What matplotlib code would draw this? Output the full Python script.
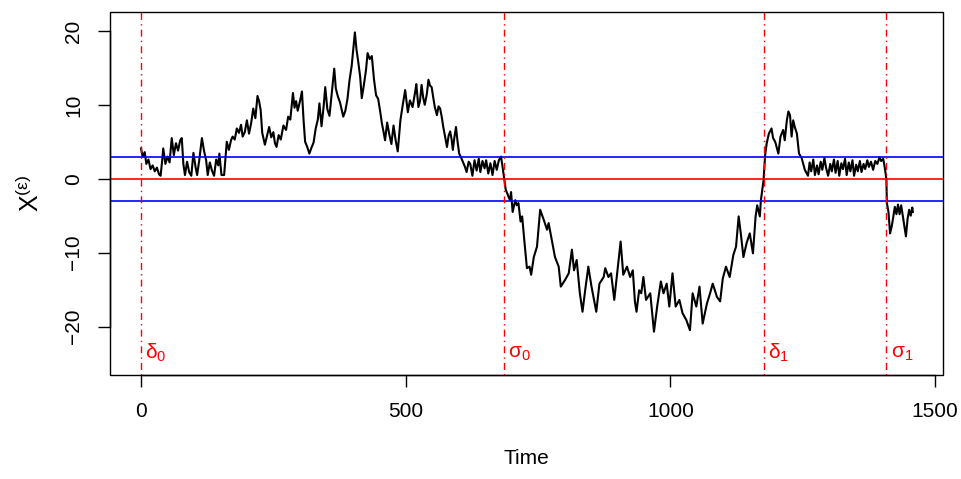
import matplotlib
matplotlib.use("Agg")
import matplotlib.pyplot as plt

plt.rcParams["font.family"] = ["Liberation Sans", "DejaVu Sans"]
plt.rcParams["mathtext.fontset"] = "custom"
plt.rcParams["mathtext.rm"] = "Liberation Sans"
plt.rcParams["mathtext.it"] = "Liberation Sans"

# path (time, value) knots
time = [
    0, 3, 7, 10, 14, 18, 22, 26, 30, 34, 37, 40, 42, 46, 50, 54, 58, 62, 66, 70,
    74, 77, 80, 83, 87, 91, 95, 99, 103, 106, 110, 115, 119, 123, 126, 130, 134, 138, 142, 146,
    148, 152, 157, 162, 166, 170, 173, 177, 181, 185, 189, 192, 196, 200, 204, 208, 212, 216, 220, 223,
    226, 229, 234, 238, 242, 246, 250, 253, 256, 260, 264, 269, 274, 278, 282, 287, 290, 293, 296, 300,
    304, 307, 310, 314, 318, 322, 326, 330, 334, 337, 341, 345, 348, 352, 356, 360, 365, 368, 372, 376,
    382, 386, 390, 394, 398, 401, 404, 407, 410, 414, 417, 421, 425, 428, 432, 436, 440, 444, 448, 452,
    455, 458, 461, 465, 469, 473, 477, 481, 485, 490, 494, 499, 504, 508, 513, 518, 520, 524, 527, 530,
    533, 536, 540, 543, 546, 549, 552, 555, 559, 562, 565, 568, 571, 575, 578, 581, 584, 587, 589, 592,
    595, 598, 601, 605, 609, 612, 615, 619, 622, 626, 630, 634, 638, 641, 645, 649, 652, 656, 660, 664,
    668, 672, 676, 680, 683, 686, 689, 692, 694, 697, 699, 702, 707, 710, 713, 717, 720, 724, 729, 734,
    737, 742, 748, 754, 761, 767, 770, 776, 782, 789, 793, 801, 808, 814, 818, 823, 829, 834, 839, 845,
    851, 860, 866, 874, 877, 883, 888, 894, 900, 906, 911, 918, 924, 929, 933, 936, 941, 945, 949, 954,
    962, 969, 975, 982, 987, 993, 998, 1004, 1010, 1017, 1023, 1030, 1037, 1042, 1049, 1055, 1061, 1069, 1075, 1080,
    1088, 1094, 1099, 1105, 1112, 1119, 1124, 1129, 1133, 1138, 1144, 1150, 1156, 1161, 1164, 1169, 1171, 1176, 1179, 1182,
    1186, 1191, 1194, 1198, 1204, 1208, 1213, 1216, 1220, 1223, 1226, 1229, 1232, 1235, 1239, 1243, 1248, 1254, 1260, 1263,
    1266, 1270, 1273, 1277, 1280, 1284, 1287, 1291, 1294, 1298, 1302, 1305, 1309, 1312, 1316, 1319, 1323, 1326, 1330, 1333,
    1337, 1340, 1344, 1347, 1351, 1354, 1358, 1361, 1365, 1368, 1372, 1375, 1379, 1383, 1387, 1391, 1395, 1398, 1402, 1405,
    1408, 1409, 1412, 1415, 1418, 1421, 1424, 1427, 1430, 1433, 1436, 1440, 1445, 1448, 1451, 1454, 1457, 1458,
]
value = [
    4.1, 3.0, 3.6, 2.0, 2.6, 1.3, 1.8, 1.0, 1.5, 0.6, 0.4, 2.5, 4.1, 2.0, 3.0, 2.2, 5.5, 3.2, 4.8, 3.8,
    5.2, 5.5, 2.0, 0.5, 2.3, 0.9, 0.4, 3.5, 1.6, 0.5, 2.5, 5.5, 3.8, 2.5, 0.5, 2.2, 1.1, 0.4, 2.6, 1.8,
    3.4, 0.5, 0.5, 5.0, 3.9, 5.2, 5.7, 5.3, 6.8, 6.2, 7.3, 5.7, 6.3, 7.9, 6.1, 7.5, 9.5, 8.2, 11.2, 10.5,
    9.3, 6.2, 4.6, 5.8, 7.0, 5.6, 6.3, 4.8, 4.3, 5.9, 5.3, 7.2, 6.6, 8.4, 8.0, 11.6, 9.6, 10.5, 9.2, 10.4,
    11.8, 8.0, 5.0, 4.3, 3.4, 4.2, 4.9, 6.8, 8.0, 10.2, 7.1, 9.8, 12.4, 9.4, 8.5, 11.3, 14.9, 12.2, 11.1, 10.3,
    8.4, 9.2, 10.8, 13.4, 15.3, 17.5, 19.8, 17.5, 16.0, 13.8, 10.9, 12.7, 14.7, 17.0, 16.2, 16.6, 13.5, 11.3, 10.8, 9.0,
    7.5, 6.4, 5.2, 7.6, 6.0, 4.7, 7.2, 5.2, 3.7, 7.9, 9.8, 12.0, 9.0, 10.6, 9.7, 11.8, 12.8, 9.7, 10.5, 12.7,
    11.0, 10.0, 11.5, 13.4, 12.6, 12.4, 11.0, 9.7, 8.6, 9.8, 9.5, 8.4, 7.0, 5.5, 4.3, 5.8, 6.4, 5.2, 3.9, 5.6,
    7.0, 5.0, 3.4, 2.8, 2.1, 1.6, 0.9, 2.3, 2.0, 0.4, 2.5, 1.1, 2.7, 0.9, 2.4, 1.4, 2.5, 0.7, 2.1, 0.5,
    2.4, 1.2, 2.5, 3.0, 1.6, 0.0, -1.5, -2.0, -2.4, -2.9, -1.8, -4.5, -2.9, -3.6, -3.3, -5.8, -5.1, -8.3, -12.1, -11.9,
    -13.0, -10.6, -9.2, -4.2, -5.6, -6.9, -6.0, -8.3, -10.6, -11.9, -14.6, -13.7, -12.8, -9.6, -12.4, -11.0, -15.5, -18.0, -15.1, -11.9,
    -14.6, -18.0, -14.2, -13.3, -12.1, -13.3, -12.8, -16.4, -12.4, -8.5, -13.0, -11.9, -13.3, -12.4, -16.6, -18.0, -15.1, -15.5, -13.3, -16.4,
    -15.5, -20.7, -17.3, -13.9, -15.5, -14.2, -17.3, -12.8, -17.3, -16.4, -18.2, -19.1, -20.5, -15.5, -17.3, -14.6, -19.6, -16.9, -15.5, -14.2,
    -16.0, -16.6, -13.5, -11.9, -13.3, -10.3, -9.2, -5.1, -7.4, -10.6, -8.7, -7.4, -10.1, -5.1, -3.6, -5.1, -2.9, -0.2, 3.2, 4.8,
    6.1, 6.8, 5.5, 5.0, 3.4, 5.7, 6.6, 5.2, 7.9, 9.1, 8.6, 5.7, 7.9, 7.0, 6.1, 3.4, 2.8, 1.2, 0.4, 2.2,
    1.0, 2.6, 0.5, 1.8, 0.6, 2.3, 1.2, 2.8, 1.5, 0.4, 2.0, 1.0, 2.6, 0.8, 2.4, 0.4, 2.1, 1.3, 2.7, 0.5,
    2.2, 1.0, 2.5, 0.4, 1.9, 1.0, 2.4, 0.9, 2.0, 1.3, 2.5, 1.6, 2.3, 1.2, 2.4, 2.0, 2.9, 2.4, 2.7, 1.5,
    0.0, -3.3, -4.5, -7.4, -6.5, -5.2, -3.8, -4.8, -3.5, -4.8, -3.6, -5.5, -7.8, -5.5, -4.2, -5.0, -3.9, -4.5,
]

band = 3.0
stop_times = [0, 686, 1176, 1408]
stop_labels = ["δ$_0$", "σ$_0$", "δ$_1$", "σ$_1$"]

fig = plt.figure(figsize=(9.62, 4.79), dpi=100)
ax = fig.add_axes([110 / 962, 104 / 479, 833 / 962, 363 / 479])

ax.plot(time, value, color="black", linewidth=1.5)
ax.axhline(0, color="red", linewidth=1.2)
ax.axhline(band, color="blue", linewidth=1.2)
ax.axhline(-band, color="blue", linewidth=1.2)
for t, lab in zip(stop_times, stop_labels):
    ax.axvline(t, color="red", linewidth=1.0, linestyle=(0, (1, 3, 5, 3)))
    ax.text(t + 8, -23.6, lab, color="red", fontsize=15, ha="left", va="center")

ax.set_xlim(-58.6, 1515)
ax.set_ylim(-26.56, 22.56)
ax.set_xticks([0, 500, 1000, 1500])
ax.set_yticks([-20, -10, 0, 10, 20])
ax.tick_params(length=8.5, width=1, labelsize=15, pad=11)
for lab in ax.get_yticklabels():
    lab.set_rotation(90)
    lab.set_va("center")
for s in ax.spines.values():
    s.set_linewidth(1)
ax.spines["bottom"].set_bounds(0, 1500)
ax.spines["left"].set_bounds(-20, 20)
ax.spines["top"].set_visible(False)
ax.spines["right"].set_visible(False)

ax.set_xlabel("Time", fontsize=15, labelpad=20)
ax.set_ylabel("X$^{(ε)}$", fontsize=18, labelpad=14)

# full box around plot region
box = plt.Rectangle((0, 0), 1, 1, transform=ax.transAxes, fill=False,
                    edgecolor="black", linewidth=1, clip_on=False)
ax.add_patch(box)

fig.savefig("out.png", dpi=100)
